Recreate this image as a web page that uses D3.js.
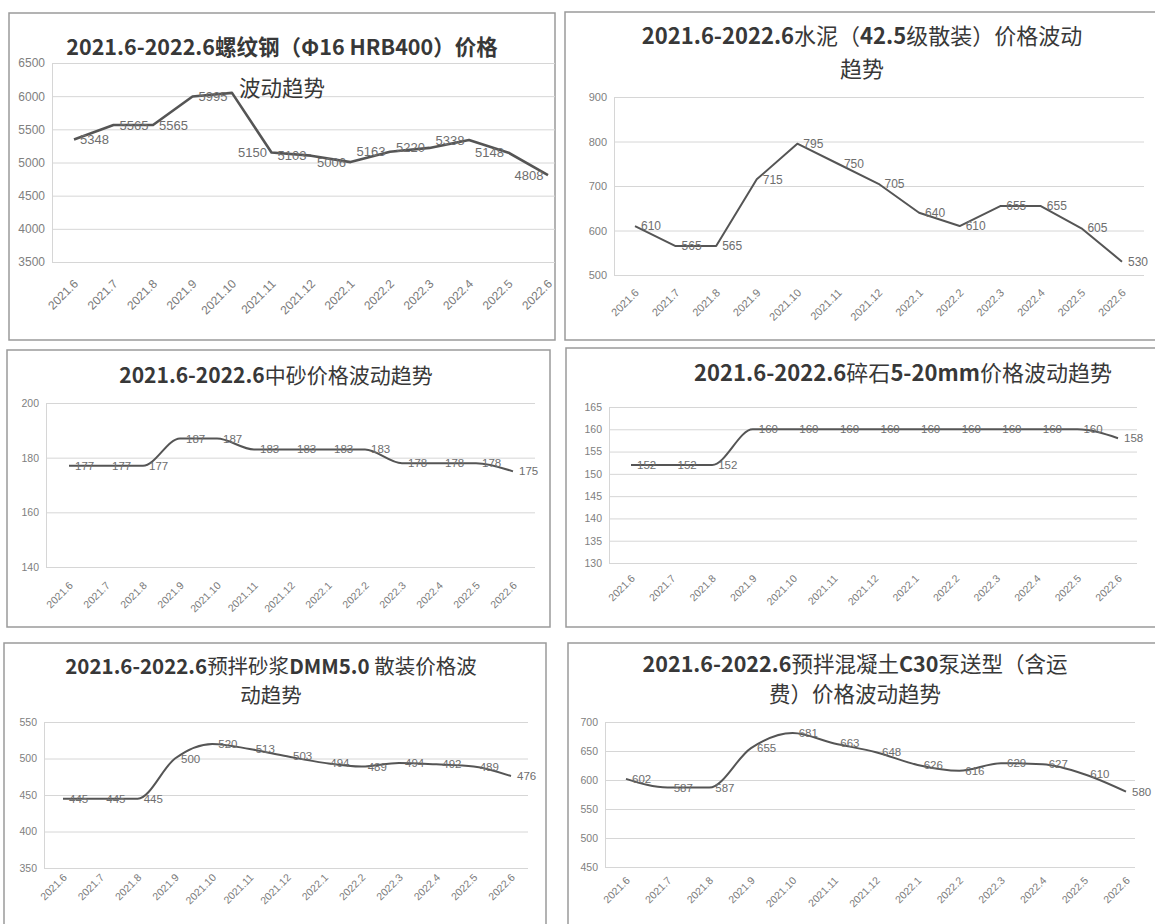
<!DOCTYPE html>
<html>
<head>
<meta charset="utf-8">
<script src="https://cdn.jsdelivr.net/npm/d3@7/dist/d3.min.js"></script>
<style>
  body { margin: 0; background: #fff; }
  svg { display: block; }
</style>
</head>
<body>
<script>
// categories
var months = ['2021.6', '2021.7', '2021.8', '2021.9', '2021.10', '2021.11', '2021.12',
              '2022.1', '2022.2', '2022.3', '2022.4', '2022.5', '2022.6'];

// series values
var steelPrices    = [5348, 5565, 5565, 5995, 6050, 5150, 5103, 5006, 5163, 5220, 5338, 5148, 4808];
var cementPrices   = [610, 565, 565, 715, 795, 750, 705, 640, 610, 655, 655, 605, 530];
var sandPrices     = [177, 177, 177, 187, 187, 183, 183, 183, 183, 178, 178, 178, 175];
var gravelPrices   = [152, 152, 152, 160, 160, 160, 160, 160, 160, 160, 160, 160, 158];
var mortarPrices   = [445, 445, 445, 500, 520, 513, 503, 494, 489, 494, 492, 489, 476];
var concretePrices = [602, 587, 587, 655, 681, 663, 648, 626, 616, 629, 627, 610, 580];

// y tick labels
var steelTicks    = [3500, 4000, 4500, 5000, 5500, 6000, 6500];
var cementTicks   = [500, 600, 700, 800, 900];
var sandTicks     = [140, 160, 180, 200];
var gravelTicks   = [130, 135, 140, 145, 150, 155, 160, 165];
var mortarTicks   = [350, 400, 450, 500, 550];
var concreteTicks = [450, 500, 550, 600, 650, 700];

// titles
var steelTitle    = ['2021.6-2022.6螺纹钢（Φ16 HRB400）价格', '波动趋势'];
var cementTitle   = ['2021.6-2022.6水泥（42.5级散装）价格波动', '趋势'];
var sandTitle     = ['2021.6-2022.6中砂价格波动趋势'];
var gravelTitle   = ['2021.6-2022.6碎石5-20mm价格波动趋势'];
var mortarTitle   = ['2021.6-2022.6预拌砂浆DMM5.0 散装价格波', '动趋势'];
var concreteTitle = ['2021.6-2022.6预拌混凝土C30泵送型（含运', '费）价格波动趋势'];

var width = 1155, height = 924;

var svg = d3.select('body').append('svg')
    .attr('width', width)
    .attr('height', height);

// layout of each panel (box, title, plot area, first/last point x)
var panels = [
    {values: steelPrices, ticks: steelTicks, title: steelTitle, skip: [4],
     box: [9, 13, 546, 327], tx: 282, ty: [47, 88], tsize: 21.5, tweights: [700, 400],
     left: 52, right: 555, top: 63, bottom: 262, first: 74, last: 548,
     xoff: 21, lw: 2.6, curve: d3.curveLinear, fs: 12},
    {values: cementPrices, ticks: cementTicks, title: cementTitle, skip: [],
     box: [565, 12, 600, 328], tx: 862, ty: [36, 69], tsize: 22, tweights: [400, 400],
     left: 614, right: 1144, top: 97, bottom: 275, first: 635, last: 1122,
     xoff: 17, lw: 2, curve: d3.curveLinear, fs: 11},
    {values: sandPrices, ticks: sandTicks, title: sandTitle, skip: [],
     box: [7, 350, 543, 277], tx: 276, ty: [375], tsize: 21, tweights: [400],
     left: 46, right: 535, top: 403, bottom: 567, first: 69, last: 513,
     xoff: 18, lw: 2, curve: d3.curveMonotoneX, fs: 10.5},
    {values: gravelPrices, ticks: gravelTicks, title: gravelTitle, skip: [],
     box: [566, 348, 600, 279], tx: 903, ty: [373], tsize: 22, tweights: [400],
     left: 609, right: 1137, top: 407, bottom: 563, first: 631, last: 1118,
     xoff: 15, lw: 2, curve: d3.curveMonotoneX, fs: 10.5},
    {values: mortarPrices, ticks: mortarTicks, title: mortarTitle, skip: [],
     box: [4, 643, 542, 300], tx: 271, ty: [667, 696], tsize: 20.5, tweights: [400, 400],
     left: 44, right: 528, top: 722, bottom: 868, first: 63, last: 511,
     xoff: 9, lw: 2, curve: d3.curveMonotoneX, fs: 10.5},
    {values: concretePrices, ticks: concreteTicks, title: concreteTitle, skip: [],
     box: [568, 643, 600, 300], tx: 855, ty: [664, 694], tsize: 21.5, tweights: [400, 400],
     left: 605, right: 1135, top: 722, bottom: 867, first: 626, last: 1126,
     xoff: 13, lw: 2, curve: d3.curveMonotoneX, fs: 10.5}
];

// title text: latin runs bold, CJK runs in the given weight
function addTitle(g, line, cx, cy, size, cjkWeight) {
    var t = g.append('text')
        .attr('x', cx)
        .attr('y', cy)
        .attr('dy', '0.36em')
        .attr('text-anchor', 'middle')
        .attr('font-family', '"Noto Sans CJK SC", sans-serif')
        .attr('font-size', size)
        .attr('fill', '#383838');
    line.match(/[\x00-\x7F]+|[^\x00-\x7F]+/g).forEach(function(s) {
        t.append('tspan')
            .attr('font-weight', /^[\x00-\x7F]/.test(s) ? 700 : cjkWeight)
            .text(s);
    });
}

function drawPanel(p) {
    var g = svg.append('g');

    g.append('rect')
        .attr('x', p.box[0]).attr('y', p.box[1])
        .attr('width', p.box[2]).attr('height', p.box[3])
        .attr('fill', '#fff')
        .attr('stroke', '#9a9a9a')
        .attr('stroke-width', 1.5);

    var yScale = d3.scaleLinear()
        .domain(d3.extent(p.ticks))
        .range([p.bottom, p.top]);

    var xScale = d3.scalePoint()
        .domain(months)
        .range([p.first, p.last]);

    // gridlines + y labels
    var yAxis = d3.axisLeft(yScale)
        .tickValues(p.ticks)
        .tickFormat(d3.format('d'))
        .tickSize(-(p.right - p.left))
        .tickSizeOuter(0)
        .tickPadding(7);

    var ya = g.append('g')
        .attr('transform', 'translate(' + p.left + ',0)')
        .call(yAxis);
    ya.select('.domain').attr('stroke', '#d6d6d6');
    ya.selectAll('.tick line').attr('stroke', '#d6d6d6');
    ya.selectAll('.tick text')
        .attr('fill', '#808080')
        .attr('font-family', '"Liberation Sans", Arial, sans-serif')
        .attr('font-size', p.fs);

    // rotated category labels
    var xAxis = d3.axisBottom(xScale).tickSize(0).tickPadding(0);
    var xa = g.append('g')
        .attr('transform', 'translate(0,' + (p.bottom + p.xoff) + ')')
        .call(xAxis);
    xa.select('.domain').remove();
    xa.selectAll('.tick text')
        .attr('y', 0)
        .attr('x', 2)
        .attr('dy', '0.35em')
        .attr('text-anchor', 'end')
        .attr('transform', 'rotate(-45)')
        .attr('fill', '#7a7a7a')
        .attr('font-family', '"Liberation Sans", Arial, sans-serif')
        .attr('font-size', p.fs);

    // line
    var line = d3.line()
        .x(function(d, i) { return xScale(months[i]); })
        .y(function(d) { return yScale(d); })
        .curve(p.curve);

    g.append('path')
        .datum(p.values)
        .attr('d', line)
        .attr('fill', 'none')
        .attr('stroke', '#555')
        .attr('stroke-width', p.lw)
        .attr('stroke-linejoin', 'round');

    // data labels to the right of each point
    g.append('g').selectAll('text')
        .data(p.values)
        .enter().append('text')
        .filter(function(d, i) { return p.skip.indexOf(i) < 0; })
        .attr('x', function(d, i) { return xScale(months[i]) + 6; })
        .attr('y', function(d) { return yScale(d); })
        .attr('dy', '0.35em')
        .attr('fill', '#6e6e6e')
        .attr('font-family', '"Liberation Sans", Arial, sans-serif')
        .attr('font-size', p.fs + 1)
        .text(function(d) { return d; });

    p.title.forEach(function(t, i) {
        addTitle(g, t, p.tx, p.ty[i], p.tsize, p.tweights[i]);
    });
}

panels.forEach(drawPanel);
</script>
</body>
</html>
